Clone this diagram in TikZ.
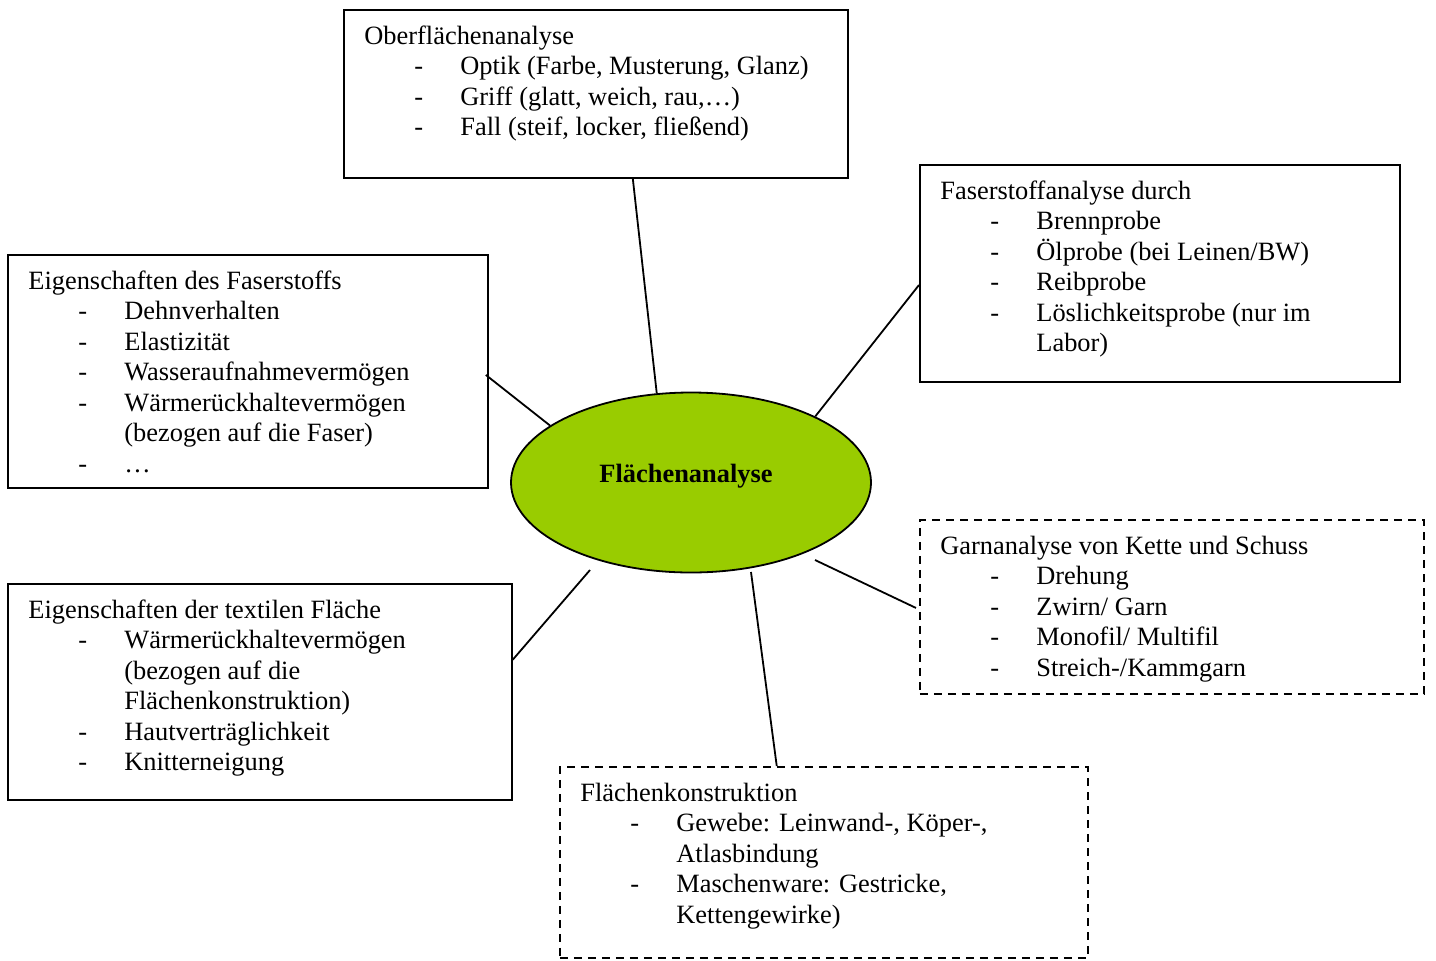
\documentclass[tikz,border=0pt]{standalone}
\usepackage{fontspec}
\setmainfont{Liberation Serif}
\usetikzlibrary{shapes.geometric,calc}
\definecolor{leaf}{RGB}{153,204,0}
% body text: fixed baseline grid for the boxed lists
\newcommand{\bodyfont}{\fontsize{13.2}{15.25}\selectfont\lineskiplimit=-20pt\relax}
% list entry with a dash, and a continuation line
\newcommand{\itm}[1]{\strut\makebox[48pt][l]{\hspace*{25pt}-}#1}
\newcommand{\cnt}[1]{\strut\hspace*{48pt}#1}
\newcommand{\ttl}[1]{\strut#1}
\begin{document}
\begin{tikzpicture}[x=0.5pt,y=-0.5pt,
  frame/.style={draw, line width=0.9pt, inner sep=0pt, anchor=north west},
  dframe/.style={frame, dash pattern=on 4.2pt off 2.8pt},
  body/.style={anchor=north west, inner sep=0pt, align=left, font=\bodyfont, yshift=10.675pt},
  link/.style={line width=0.9pt}]
\useasboundingbox (0,0) rectangle (1436,960);

% central ellipse
\node[ellipse, draw, line width=0.9pt, fill=leaf, minimum width=180pt, minimum height=90pt, inner sep=0pt] (ell) at (691,482.5) {};
\node[font=\bodyfont\bfseries, anchor=base, inner sep=0pt] (ctitle) at (686,482) {Flächenanalyse};

% boxes
\node[frame, minimum width=252pt, minimum height=84pt] (ober) at (343,9) {};
\node[body] (tober) at (364,44) {\ttl{Oberflächenanalyse}\\
  \itm{Optik (Farbe, Musterung, Glanz)}\\
  \itm{Griff (glatt, weich, rau,\dots)}\\
  \itm{Fall (steif, locker, fließend)}};

\node[frame, minimum width=240pt, minimum height=108.5pt] (faser) at (919,164) {};
\node[body] (tfaser) at (940,199) {\ttl{Faserstoffanalyse durch}\\
  \itm{Brennprobe}\\
  \itm{Ölprobe (bei Leinen/BW)}\\
  \itm{Reibprobe}\\
  \itm{Löslichkeitsprobe (nur im}\\
  \cnt{Labor)}};

\node[frame, minimum width=240pt, minimum height=116.5pt] (eigf) at (7,254) {};
\node[body] (teigf) at (28,289) {\ttl{Eigenschaften des Faserstoffs}\\
  \itm{Dehnverhalten}\\
  \itm{Elastizität}\\
  \itm{Wasseraufnahmevermögen}\\
  \itm{Wärmerückhaltevermögen}\\
  \cnt{(bezogen auf die Faser)}\\
  \itm{\dots}};

\node[frame, minimum width=252pt, minimum height=108pt] (eigt) at (7,583) {};
\node[body] (teigt) at (28,618) {\ttl{Eigenschaften der textilen Fläche}\\
  \itm{Wärmerückhaltevermögen}\\
  \cnt{(bezogen auf die}\\
  \cnt{Flächenkonstruktion)}\\
  \itm{Hautverträglichkeit}\\
  \itm{Knitterneigung}};

\node[dframe, minimum width=252pt, minimum height=87pt] (garn) at (919,519) {};
\node[body] (tgarn) at (940,554) {\ttl{Garnanalyse von Kette und Schuss}\\
  \itm{Drehung}\\
  \itm{Zwirn/ Garn}\\
  \itm{Monofil/ Multifil}\\
  \itm{Streich-/Kammgarn}};

\node[dframe, minimum width=264pt, minimum height=95.5pt] (flk) at (559,766) {};
\node[body] (tflk) at (580,801) {\ttl{Flächenkonstruktion}\\
  \itm{Gewebe: Leinwand-, Köper-,}\\
  \cnt{Atlasbindung}\\
  \itm{Maschenware: Gestricke,}\\
  \cnt{Kettengewirke)}};

% loose ends just off the ellipse
\coordinate (e4) at (590,570);
\coordinate (e5) at (815,560);
\coordinate (e6) at (751,572);

% connectors
\draw[link] ($(ober.south west)!0.573!(ober.south east)$) -- (ell.111);
\draw[link] ($(faser.north west)!0.553!(faser.south west)$) -- (ell.28.7);
\draw[link] ($(eigf.north east)!0.515!(eigf.south east)+(-3,0)$) -- (ell.158.4);
\draw[link] ($(eigt.north east)!0.352!(eigt.south east)$) -- (e4);
\draw[link] ($(garn.north west)!0.506!(garn.south west)+(-3,0)$) -- (e5);
\draw[link] ($(flk.north west)!0.411!(flk.north east)$) -- (e6);
\end{tikzpicture}
\end{document}
